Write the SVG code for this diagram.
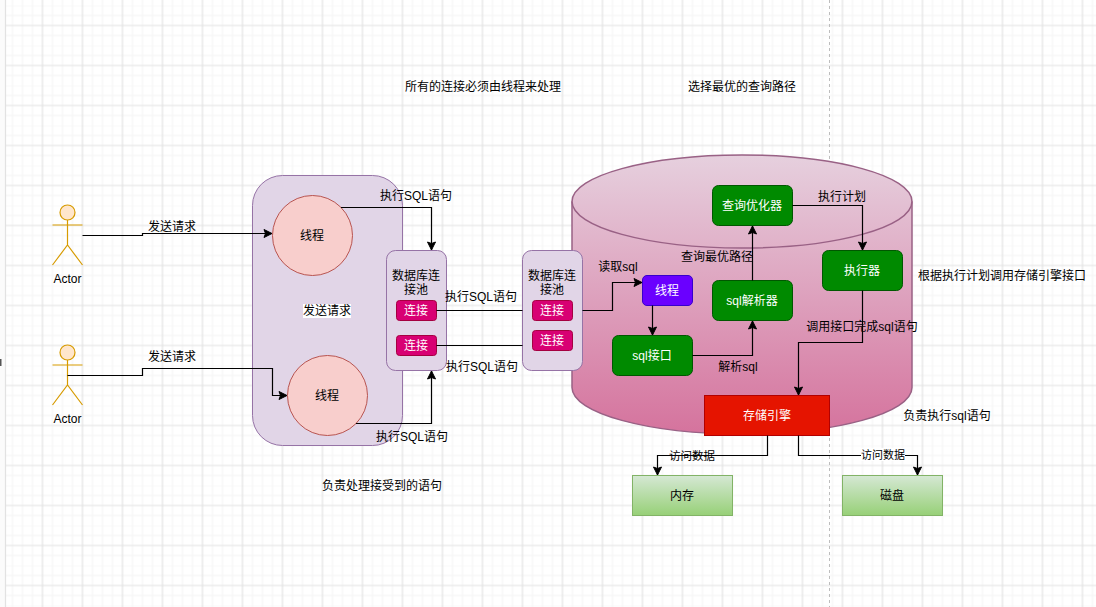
<svg xmlns="http://www.w3.org/2000/svg" width="1096" height="607" viewBox="0 0 1096 607">
<style>
text{font-family:"Liberation Sans","Noto Sans CJK SC",sans-serif;font-size:12px;fill:#000;text-anchor:middle;dominant-baseline:central}
.w{fill:#fff}
.conn{fill:none;stroke:#000;stroke-width:1.2}
.arr{marker-end:url(#arrow)}
.actor{fill:none;stroke:#d79b00;stroke-width:1.2}
.head{fill:#ffe6cc;stroke:#d79b00;stroke-width:1.2}
.th{fill:#f8cecc;stroke:#b85450}
.pool{fill:#e1d5e7;stroke:#9673a6}
.c{fill:#d80073;stroke:#a50040}
.g{fill:#008a00;stroke:#005700}
.st{fill:url(#gg);stroke:#82b366}
</style>
<defs>
<pattern id="grid" x="2.5" y="5.5" width="40" height="40" patternUnits="userSpaceOnUse">
<path d="M10 0V40M20 0V40M30 0V40M0 10H40M0 30H40M0 0H40" fill="none" stroke="#f7f7f7" stroke-width="1.5"/>
<path d="M0 20H40M40 0V40M0 0V40" fill="none" stroke="#e2e2e2" stroke-width="1.2"/>
</pattern>
<linearGradient id="cy" x1="0" y1="0" x2="0" y2="1"><stop offset="0" stop-color="#e6d0de"/><stop offset="1" stop-color="#d5739d"/></linearGradient>
<linearGradient id="gg" x1="0" y1="0" x2="0" y2="1"><stop offset="0" stop-color="#d5e8d4"/><stop offset="1" stop-color="#97d077"/></linearGradient>
<marker id="arrow" markerUnits="userSpaceOnUse" markerWidth="12" markerHeight="12" viewBox="0 0 12 12" refX="9" refY="6" orient="auto"><path d="M1 2 L9 6 L1 10 L2.5 6 Z" fill="#000" stroke="#000"/></marker>
</defs>
<rect width="1096" height="607" fill="#fff"/>
<rect width="5" height="607" fill="#fbfbfb"/>
<rect x="5" width="1091" height="607" fill="url(#grid)"/>
<path d="M5.5 0V607" stroke="#e2e2e2" stroke-width="1.2"/>
<path d="M829.5 0V607" stroke="#bdbdbd" stroke-dasharray="3 3" fill="none"/>
<rect x="0" y="359" width="1.5" height="7" fill="#555"/>

<g id="actor1"><circle class="head" cx="67.5" cy="212.5" r="7.5"/><path class="actor" d="M67.5 220V245M52.5 225H82.5M52.5 265L67.5 245L82.5 265"/><text x="67.5" y="278.5">Actor</text></g>
<g id="actor2"><circle class="head" cx="67.5" cy="352.5" r="7.5"/><path class="actor" d="M67.5 360V385M52.5 365H82.5M52.5 405L67.5 385L82.5 405"/><text x="67.5" y="418.5">Actor</text></g>
<g id="server"><rect class="pool" x="252.5" y="175.5" width="150" height="270" rx="30"/><rect x="303" y="304" width="48" height="14" fill="#fff"/><text x="327" y="311">发送请求</text></g>
<g id="thread1"><circle class="th" cx="312.5" cy="235.5" r="40"/><text x="312" y="236">线程</text></g>
<g id="thread2"><circle class="th" cx="327.5" cy="395.5" r="40"/><text x="327" y="396">线程</text></g>
<g id="pool1"><rect class="pool" x="386.5" y="250.5" width="60" height="120" rx="9"/><text x="416" y="276">数据库连</text><text x="416" y="290">接池</text></g>
<g id="conn1"><rect class="c" x="396.5" y="300.5" width="40" height="20" rx="3"/><text class="w" x="416" y="311">连接</text></g>
<g id="conn2"><rect class="c" x="396.5" y="335.5" width="40" height="20" rx="3"/><text class="w" x="416" y="346">连接</text></g>
<g id="cylinder"><path d="M572 201.5C572 175.8 648.300 155 742 155C835.700 155 912 175.800 912 201.500V387.500C912 413.200 835.700 434 742 434C648.300 434 572 413.200 572 387.500Z" fill="url(#cy)" stroke="#996185" stroke-width="1.500"/><path d="M572 201.500C572 227.200 648.300 248 742 248C835.700 248 912 227.200 912 201.500" fill="none" stroke="#996185" stroke-width="1.500"/></g>
<g id="pool2"><rect class="pool" x="522.500" y="250.500" width="60" height="120" rx="9"/><text x="552" y="276">数据库连</text><text x="552" y="290">接池</text></g>
<g id="conn3"><rect class="c" x="532.500" y="300.500" width="40" height="20" rx="3"/><text class="w" x="552" y="311">连接</text></g>
<g id="conn4"><rect class="c" x="532.500" y="330.500" width="40" height="20" rx="3"/><text class="w" x="552" y="341">连接</text></g>
<g id="thread3"><rect x="642.500" y="275.500" width="50" height="30" rx="4.500" fill="#6a00ff" stroke="#3700cc"/><text class="w" x="667" y="291">线程</text></g>
<g id="sqlif"><rect class="g" x="612.500" y="335.500" width="80" height="40" rx="6"/><text class="w" x="652" y="356">sql接口</text></g>
<g id="parser"><rect class="g" x="712.500" y="280.500" width="80" height="40" rx="6"/><text class="w" x="752" y="301">sql解析器</text></g>
<g id="optimizer"><rect class="g" x="712.500" y="185.500" width="80" height="40" rx="6"/><text class="w" x="752" y="206">查询优化器</text></g>
<g id="executor"><rect class="g" x="822.500" y="250.500" width="80" height="40" rx="6"/><text class="w" x="862" y="271">执行器</text></g>
<g id="engine"><rect x="704.500" y="395.500" width="125" height="40" fill="#e51400" stroke="#b20000"/><text class="w" x="767" y="416">存储引擎</text></g>
<g id="memory"><rect class="st" x="632.500" y="475.500" width="100" height="40"/><text x="682" y="496">内存</text></g>
<g id="disk"><rect class="st" x="842.500" y="475.500" width="100" height="40"/><text x="892" y="496">磁盘</text></g>

<g id="connectors">
<path class="conn arr" d="M82.500 235.500H142.500V233.500H272"/>
<path class="conn arr" d="M67.500 375.500H142.500V368.500H272.500V395.500H287"/>
<path class="conn arr" d="M341 207.500H431.500V250"/>
<path class="conn arr" d="M356 423.500H431.500V371"/>
<path class="conn" d="M436.500 310.500H522.500"/>
<path class="conn" d="M436.500 345.500H522.500"/>
<path class="conn arr" d="M582.500 310.500H612.500V282.500H642"/>
<path class="conn arr" d="M652.500 305.500V335"/>
<path class="conn arr" d="M692.500 355.500H752.500V321"/>
<path class="conn arr" d="M752.500 280.500V226"/>
<path class="conn arr" d="M792.500 205.500H862.500V250"/>
<path class="conn arr" d="M862.500 290.500V342.500H798.500V395"/>
<path class="conn arr" d="M767.500 435.500V455.500H657.500V475"/>
<path class="conn arr" d="M798.500 435.500V455.500H917.500V475"/>
<text x="172" y="226.500">发送请求</text>
<text x="172" y="356.500">发送请求</text>
<text x="416" y="196">执行SQL语句</text>
<text x="481" y="296.500">执行SQL语句</text>
<text x="482" y="366.500">执行SQL语句</text>
<text x="412" y="436.500">执行SQL语句</text>
<text x="618" y="266.500">读取sql</text>
<text x="717" y="256.500">查询最优路径</text>
<text x="842" y="196.500">执行计划</text>
<text x="862" y="326.500">调用接口完成sql语句</text>
<text x="738" y="366.500">解析sql</text>
<text x="692" y="455.500" style="font-size:11.500px">访问数据</text>
<rect x="861" y="448" width="44" height="13" fill="#fff"/>
<text x="883" y="454.500" style="font-size:11px">访问数据</text>
</g>
<g id="notes">
<text x="483" y="86.500">所有的连接必须由线程来处理</text>
<text x="742" y="86.500">选择最优的查询路径</text>
<text x="382" y="485.500">负责处理接受到的语句</text>
<text x="1002" y="275.500">根据执行计划调用存储引擎接口</text>
<text x="947" y="415.500">负责执行sql语句</text>
</g>
</svg>
